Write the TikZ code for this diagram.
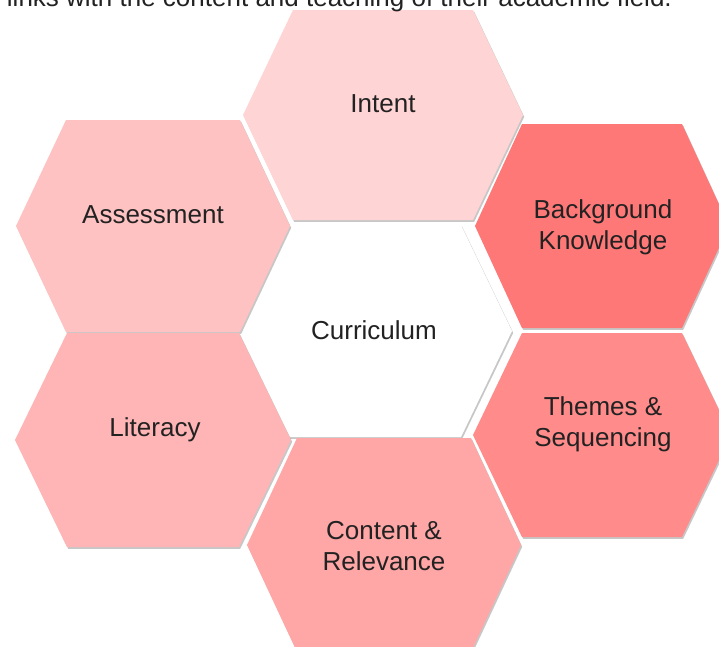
\documentclass[tikz,border=0pt]{standalone}
\usepackage{fontspec}
\setmainfont{Liberation Sans}
\usetikzlibrary{shadows}
\definecolor{cIntent}{HTML}{FFD4D4}
\definecolor{cAssess}{HTML}{FFC2C2}
\definecolor{cBack}{HTML}{FF7878}
\definecolor{cTheme}{HTML}{FF8B8B}
\definecolor{cLit}{HTML}{FFB5B5}
\definecolor{cCont}{HTML}{FFA6A6}
\definecolor{cText}{HTML}{222222}
\newcommand{\hexcell}[6]{%
  \path[hexa, fill=#6] (#1,#2) +(-#3,0) -- +(-#4,-#5) -- +(#4,-#5) -- +(#3,0) -- +(#4,#5) -- +(-#4,#5) -- cycle;}
\tikzset{
  hexa/.style={draw=none, drop shadow={shadow xshift=1.2pt, shadow yshift=-1.8pt, opacity=0.4, fill=black!55}},
  label/.style={font=\fontsize{26}{31}\selectfont, text=cText, align=center, inner sep=0pt},
}
\begin{document}
\begin{tikzpicture}[x=1pt, y=-1pt]
\useasboundingbox (0,0) rectangle (719,646);
\clip (0,0) rectangle (719,646);
\fill[white] (0,0) rectangle (719,646);
% hexagons
\hexcell{375}{331}{137}{86}{106}{white}
\hexcell{383}{115}{140}{90}{105}{cIntent}
\hexcell{153}{226}{137}{87}{106}{cAssess}
\hexcell{602}{226}{127}{80}{102}{cBack}
\hexcell{153}{440}{138}{86}{107}{cLit}
\hexcell{602}{435}{129}{80}{102}{cTheme}
\hexcell{384}{545}{137}{87}{107}{cCont}
% heading (cut at top)
\node[label, anchor=base east] (head) at (672,6) {links with the content and teaching of their academic field.};
% labels
\node[label] (intent) at (383,104) {Intent};
\node[label] (assess) at (153,215) {Assessment};
\node[label] (back) at (603,227) {Background\\Knowledge};
\node[label] (curr) at (374,330) {Curriculum};
\node[label] (lit) at (155,430) {Literacy};
\node[label] (theme) at (603,424) {Themes \&\\Sequencing};
\node[label] (cont) at (384,546) {Content \&\\Relevance};
\end{tikzpicture}
\end{document}
